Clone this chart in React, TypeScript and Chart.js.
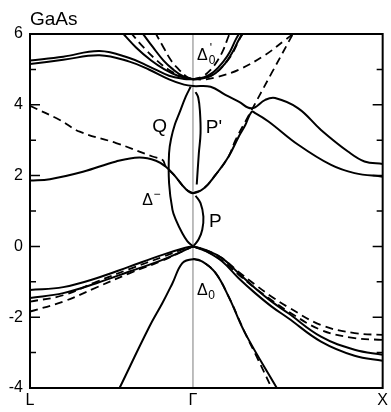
import React, { useEffect, useRef } from 'react';
import { Chart, registerables } from 'chart.js';
Chart.register(...registerables);

type Pt = [number, number];

const FONT = '"Liberation Sans", Arial, Helvetica, sans-serif';
const K_L = -0.859;
const xTickValues = [K_L, 0, 1];
const xTickLabels = ['L', 'Γ', 'X'];
const yMin = -4;
const yMax = 6;
const yTickValues = [-4, -3, -2, -1, 0, 1, 2, 3, 4, 5, 6];
const title = 'GaAs';

// ---- solid bands ----
const vbLeftSolid1: Pt[] = [[-0.859, -1.23], [-0.684, -1.15], [-0.509, -0.9], [-0.335, -0.57], [-0.161, -0.24], [-0.04, -0.04], [0, 0]];
const vbLeftSolid2: Pt[] = [[-0.859, -1.46], [-0.684, -1.32], [-0.509, -1.04], [-0.335, -0.71], [-0.161, -0.38], [-0.04, -0.1], [0, 0]];
const vbRightSolid1: Pt[] = [[0, 0], [0.066, -0.1], [0.153, -0.33], [0.241, -0.76], [0.328, -1.18], [0.415, -1.56], [0.503, -1.89], [0.675, -2.55], [0.852, -2.92], [1, -3.06]];
const vbRightSolid2: Pt[] = [[0, 0], [0.066, -0.13], [0.153, -0.42], [0.241, -0.9], [0.328, -1.32], [0.415, -1.7], [0.503, -2.03], [0.675, -2.69], [0.852, -3.09], [1, -3.23]];
const splitOffSolid: Pt[] = [[-0.387, -4.0], [-0.23, -2.27], [-0.161, -1.6], [-0.108, -1.04], [-0.056, -0.47], [0, -0.36], [0.05, -0.43], [0.119, -0.75], [0.188, -1.42], [0.275, -2.45], [0.442, -4.0]];
const conductionSolid: Pt[] = [[-0.859, 1.86], [-0.754, 1.9], [-0.58, 2.11], [-0.405, 2.4], [-0.283, 2.51], [-0.195, 2.42], [-0.143, 2.25], [-0.1, 2.02], [-0.038, 1.62], [0, 1.5], [0.058, 1.64], [0.119, 2.02], [0.188, 2.54], [0.241, 3.1], [0.276, 3.43], [0.309, 3.8], [0.33, 3.76], [0.398, 3.53], [0.555, 2.87], [0.728, 2.3], [0.852, 2.07], [1, 1.97]];
const upperSolidB: Pt[] = [[-0.859, 5.15], [-0.684, 5.27], [-0.492, 5.4], [-0.335, 5.22], [-0.23, 4.99], [-0.126, 4.72], [-0.047, 4.57], [0, 4.53], [0.093, 4.51], [0.171, 4.28], [0.241, 4.09], [0.31, 3.9], [0.381, 4.14], [0.433, 4.19], [0.555, 3.9], [0.675, 3.29], [0.817, 2.68], [0.904, 2.4], [1, 2.33]];
const upperSolidA: Pt[] = [[-0.859, 5.25], [-0.684, 5.36], [-0.492, 5.52], [-0.335, 5.32], [-0.23, 5.08], [-0.126, 4.82], [-0.047, 4.73], [0, 4.72]];
const leftSteepSolid1: Pt[] = [[-0.375, 6.05], [-0.3, 5.62], [-0.22, 5.25], [-0.15, 5.0], [-0.08, 4.82], [0, 4.72]];
const leftSteepSolid2: Pt[] = [[-0.27, 6.05], [-0.21, 5.62], [-0.155, 5.25], [-0.105, 5.0], [-0.05, 4.8], [0, 4.72]];
const rightSteepSolid1: Pt[] = [[0, 4.72], [0.066, 4.76], [0.119, 4.89], [0.171, 5.18], [0.206, 5.46], [0.241, 5.83], [0.27, 6.1]];
const rightSteepSolid2: Pt[] = [[0, 4.72], [0.06, 4.78], [0.11, 4.93], [0.16, 5.22], [0.195, 5.5], [0.228, 5.87], [0.255, 6.1]];
const curveQ: Pt[] = [[0, 0], [-0.03, 0.15], [-0.056, 0.37], [-0.09, 0.75], [-0.108, 1.03], [-0.126, 1.79], [-0.126, 2.63], [-0.115, 3.05], [-0.095, 3.45], [-0.073, 3.75], [-0.038, 4.23], [-0.012, 4.51]];
const curveP: Pt[] = [[0.005, 0.02], [0.03, 0.2], [0.049, 0.47], [0.055, 0.84], [0.04, 1.22], [0.014, 1.43]];
const curvePprime: Pt[] = [[0.02, 1.75], [0.031, 2.63], [0.04, 3.2], [0.037, 3.8], [0.028, 4.2], [0.014, 4.36]];

// ---- dashed bands ----
const vbLeftDashed1: Pt[] = [[-0.859, -1.56], [-0.684, -1.38], [-0.509, -1.0], [-0.335, -0.64], [-0.161, -0.3], [-0.04, -0.06], [0, 0]];
const vbLeftDashed2: Pt[] = [[-0.859, -1.84], [-0.684, -1.56], [-0.509, -1.16], [-0.335, -0.76], [-0.161, -0.4], [-0.04, -0.1], [0, 0]];
const vbRightDashed1: Pt[] = [[0, 0], [0.066, -0.1], [0.153, -0.33], [0.241, -0.72], [0.328, -1.08], [0.415, -1.42], [0.503, -1.72], [0.675, -2.22], [0.852, -2.45], [1, -2.5]];
const vbRightDashed2: Pt[] = [[0, 0], [0.066, -0.12], [0.153, -0.4], [0.241, -0.8], [0.328, -1.18], [0.415, -1.52], [0.503, -1.84], [0.675, -2.36], [0.852, -2.59], [1, -2.64]];
const splitOffDashed: Pt[] = [[0, -0.36], [0.05, -0.43], [0.119, -0.75], [0.188, -1.42], [0.275, -2.45], [0.33, -3.05], [0.415, -4.0]];
const leftDashedFromL: Pt[] = [[-0.859, 3.97], [-0.702, 3.57], [-0.597, 3.24], [-0.405, 2.92], [-0.213, 2.54], [-0.16, 2.44], [-0.143, 2.25], [-0.1, 2.02], [-0.038, 1.62], [0, 1.5]];
const rightDashedRising: Pt[] = [[0, 1.5], [0.058, 1.64], [0.119, 2.02], [0.188, 2.54], [0.224, 3.0], [0.293, 3.69], [0.415, 4.9], [0.534, 6.07]];
const rightDashedUpper: Pt[] = [[0, 4.72], [0.07, 4.72], [0.13, 4.79], [0.241, 4.99], [0.381, 5.41], [0.485, 5.83], [0.54, 6.05]];
const leftSteepDashed1: Pt[] = [[-0.33, 6.05], [-0.26, 5.62], [-0.19, 5.25], [-0.13, 5.0], [-0.065, 4.82], [0, 4.72]];
const leftSteepDashed2: Pt[] = [[-0.2, 6.05], [-0.155, 5.62], [-0.115, 5.25], [-0.075, 5.0], [-0.035, 4.8], [0, 4.72]];
const rightSteepDashed1: Pt[] = [[0, 4.72], [0.07, 4.77], [0.125, 4.92], [0.178, 5.22], [0.213, 5.5], [0.247, 5.87], [0.275, 6.1]];
const rightSteepDashed2: Pt[] = [[0, 4.72], [0.05, 4.8], [0.09, 4.97], [0.13, 5.25], [0.16, 5.55], [0.185, 5.9], [0.2, 6.1]];

const solidCurves: Pt[][] = [vbLeftSolid1, vbLeftSolid2, vbRightSolid1, vbRightSolid2, splitOffSolid, conductionSolid, upperSolidB, upperSolidA, leftSteepSolid1, leftSteepSolid2, rightSteepSolid1, rightSteepSolid2, curveQ, curveP, curvePprime];
const dashedCurves: Pt[][] = [vbLeftDashed1, vbLeftDashed2, vbRightDashed1, vbRightDashed2, splitOffDashed, leftDashedFromL, rightDashedRising, rightDashedUpper, leftSteepDashed1, leftSteepDashed2, rightSteepDashed1, rightSteepDashed2];

// annotation anchors (k, E)
const labelQ: Pt = [-0.215, 3.23];
const labelPprime: Pt = [0.068, 3.21];
const labelP: Pt = [0.084, 0.55];
const labelDeltaMinus: Pt = [-0.267, 1.17];
const labelDeltaPrime0: Pt = [0.021, 5.27];
const labelDelta0: Pt = [0.021, -1.37];

export default function App() {
  const ref = useRef<HTMLCanvasElement | null>(null);
  useEffect(() => {
    document.body.style.margin = '0';
    const canvas = ref.current!;
    const mk = (pts: Pt[], dashed: boolean) => ({
      data: pts.map(([x, y]) => ({ x, y })),
      showLine: true,
      borderColor: '#000',
      borderWidth: dashed ? 1.8 : 2,
      borderDash: dashed ? [8, 5] : [],
      pointRadius: 0,
      tension: 0.4,
      fill: false,
      clip: 0,
    });
    const framePlugin = {
      id: 'frame',
      beforeDatasetsDraw(chart: any) {
        const { ctx, chartArea } = chart;
        const gx = chart.scales.x.getPixelForValue(0);
        ctx.save();
        ctx.strokeStyle = '#9a9a9a';
        ctx.lineWidth = 1.3;
        ctx.beginPath();
        ctx.moveTo(gx, chartArea.top);
        ctx.lineTo(gx, chartArea.bottom);
        ctx.stroke();
        ctx.restore();
      },
      afterDatasetsDraw(chart: any) {
        const { ctx, chartArea } = chart;
        const { left, right, top, bottom } = chartArea;
        const xs = chart.scales.x;
        const ys = chart.scales.y;
        ctx.save();
        ctx.strokeStyle = '#000';
        ctx.lineWidth = 2;
        ctx.strokeRect(left, top, right - left, bottom - top);
        ctx.lineWidth = 1.5;
        for (const v of yTickValues) {
          const py = ys.getPixelForValue(v);
          const len = v % 2 === 0 ? 10 : 6;
          ctx.beginPath();
          ctx.moveTo(left, py);
          ctx.lineTo(left + len, py);
          ctx.moveTo(right, py);
          ctx.lineTo(right - len, py);
          ctx.stroke();
        }
        ctx.fillStyle = '#000';
        ctx.textAlign = 'left';
        ctx.textBaseline = 'alphabetic';
        const at = (p: Pt) => [xs.getPixelForValue(p[0]), ys.getPixelForValue(p[1])];
        ctx.font = `19px ${FONT}`;
        ctx.fillText(title, left, top - 9);
        ctx.font = `19px ${FONT}`;
        let [qx, qy] = at(labelQ);
        ctx.fillText('Q', qx, qy);
        [qx, qy] = at(labelPprime);
        ctx.fillText("P'", qx, qy);
        [qx, qy] = at(labelP);
        ctx.fillText('P', qx, qy);
        ctx.font = `16px ${FONT}`;
        [qx, qy] = at(labelDeltaMinus);
        ctx.fillText('Δ', qx, qy);
        const wD = ctx.measureText('Δ').width;
        ctx.font = `12px ${FONT}`;
        ctx.fillText('−', qx + wD + 0.5, qy - 7);
        ctx.font = `16px ${FONT}`;
        [qx, qy] = at(labelDeltaPrime0);
        ctx.fillText('Δ', qx, qy);
        ctx.font = `12px ${FONT}`;
        ctx.fillText("'", qx + wD + 2, qy - 8);
        ctx.fillText('0', qx + wD + 1, qy + 4);
        ctx.font = `16px ${FONT}`;
        [qx, qy] = at(labelDelta0);
        ctx.fillText('Δ', qx, qy);
        ctx.font = `12px ${FONT}`;
        ctx.fillText('0', qx + wD + 0.5, qy + 4);
        ctx.restore();
      },
    };
    const chart = new Chart(canvas, {
      type: 'scatter',
      data: {
        datasets: [
          ...solidCurves.map((c) => mk(c, false)),
          ...dashedCurves.map((c) => mk(c, true)),
        ] as any,
      },
      options: {
        animation: false,
        responsive: false,
        devicePixelRatio: 1,
        layout: { padding: { top: 34, right: 6, left: 0, bottom: 0 } },
        plugins: { legend: { display: false }, tooltip: { enabled: false }, title: { display: false } },
        events: [],
        scales: {
          x: {
            type: 'linear',
            min: K_L,
            max: 1,
            grid: { display: false, drawTicks: false },
            border: { display: false },
            afterBuildTicks: (scale: any) => {
              scale.ticks = xTickValues.map((value) => ({ value }));
            },
            afterFit: (scale: any) => {
              scale.height = 24;
            },
            ticks: {
              autoSkip: false,
              maxRotation: 0,
              padding: 3,
              color: '#000',
              font: { family: FONT, size: 16 },
              callback: (_v: any, i: number) => xTickLabels[i],
            },
          },
          y: {
            type: 'linear',
            min: yMin,
            max: yMax,
            grid: { display: false, drawTicks: false },
            border: { display: false },
            afterBuildTicks: (scale: any) => {
              scale.ticks = yTickValues.map((value) => ({ value }));
            },
            afterFit: (scale: any) => {
              scale.width = 30;
            },
            ticks: {
              autoSkip: false,
              padding: 7,
              color: '#000',
              font: { family: FONT, size: 16 },
              callback: (v: any) => (Number(v) % 2 === 0 ? String(v) : ''),
            },
          },
        },
      } as any,
      plugins: [framePlugin],
    });
    return () => chart.destroy();
  }, []);
  return <canvas ref={ref} width={391} height={412} style={{ display: 'block' }} />;
}
